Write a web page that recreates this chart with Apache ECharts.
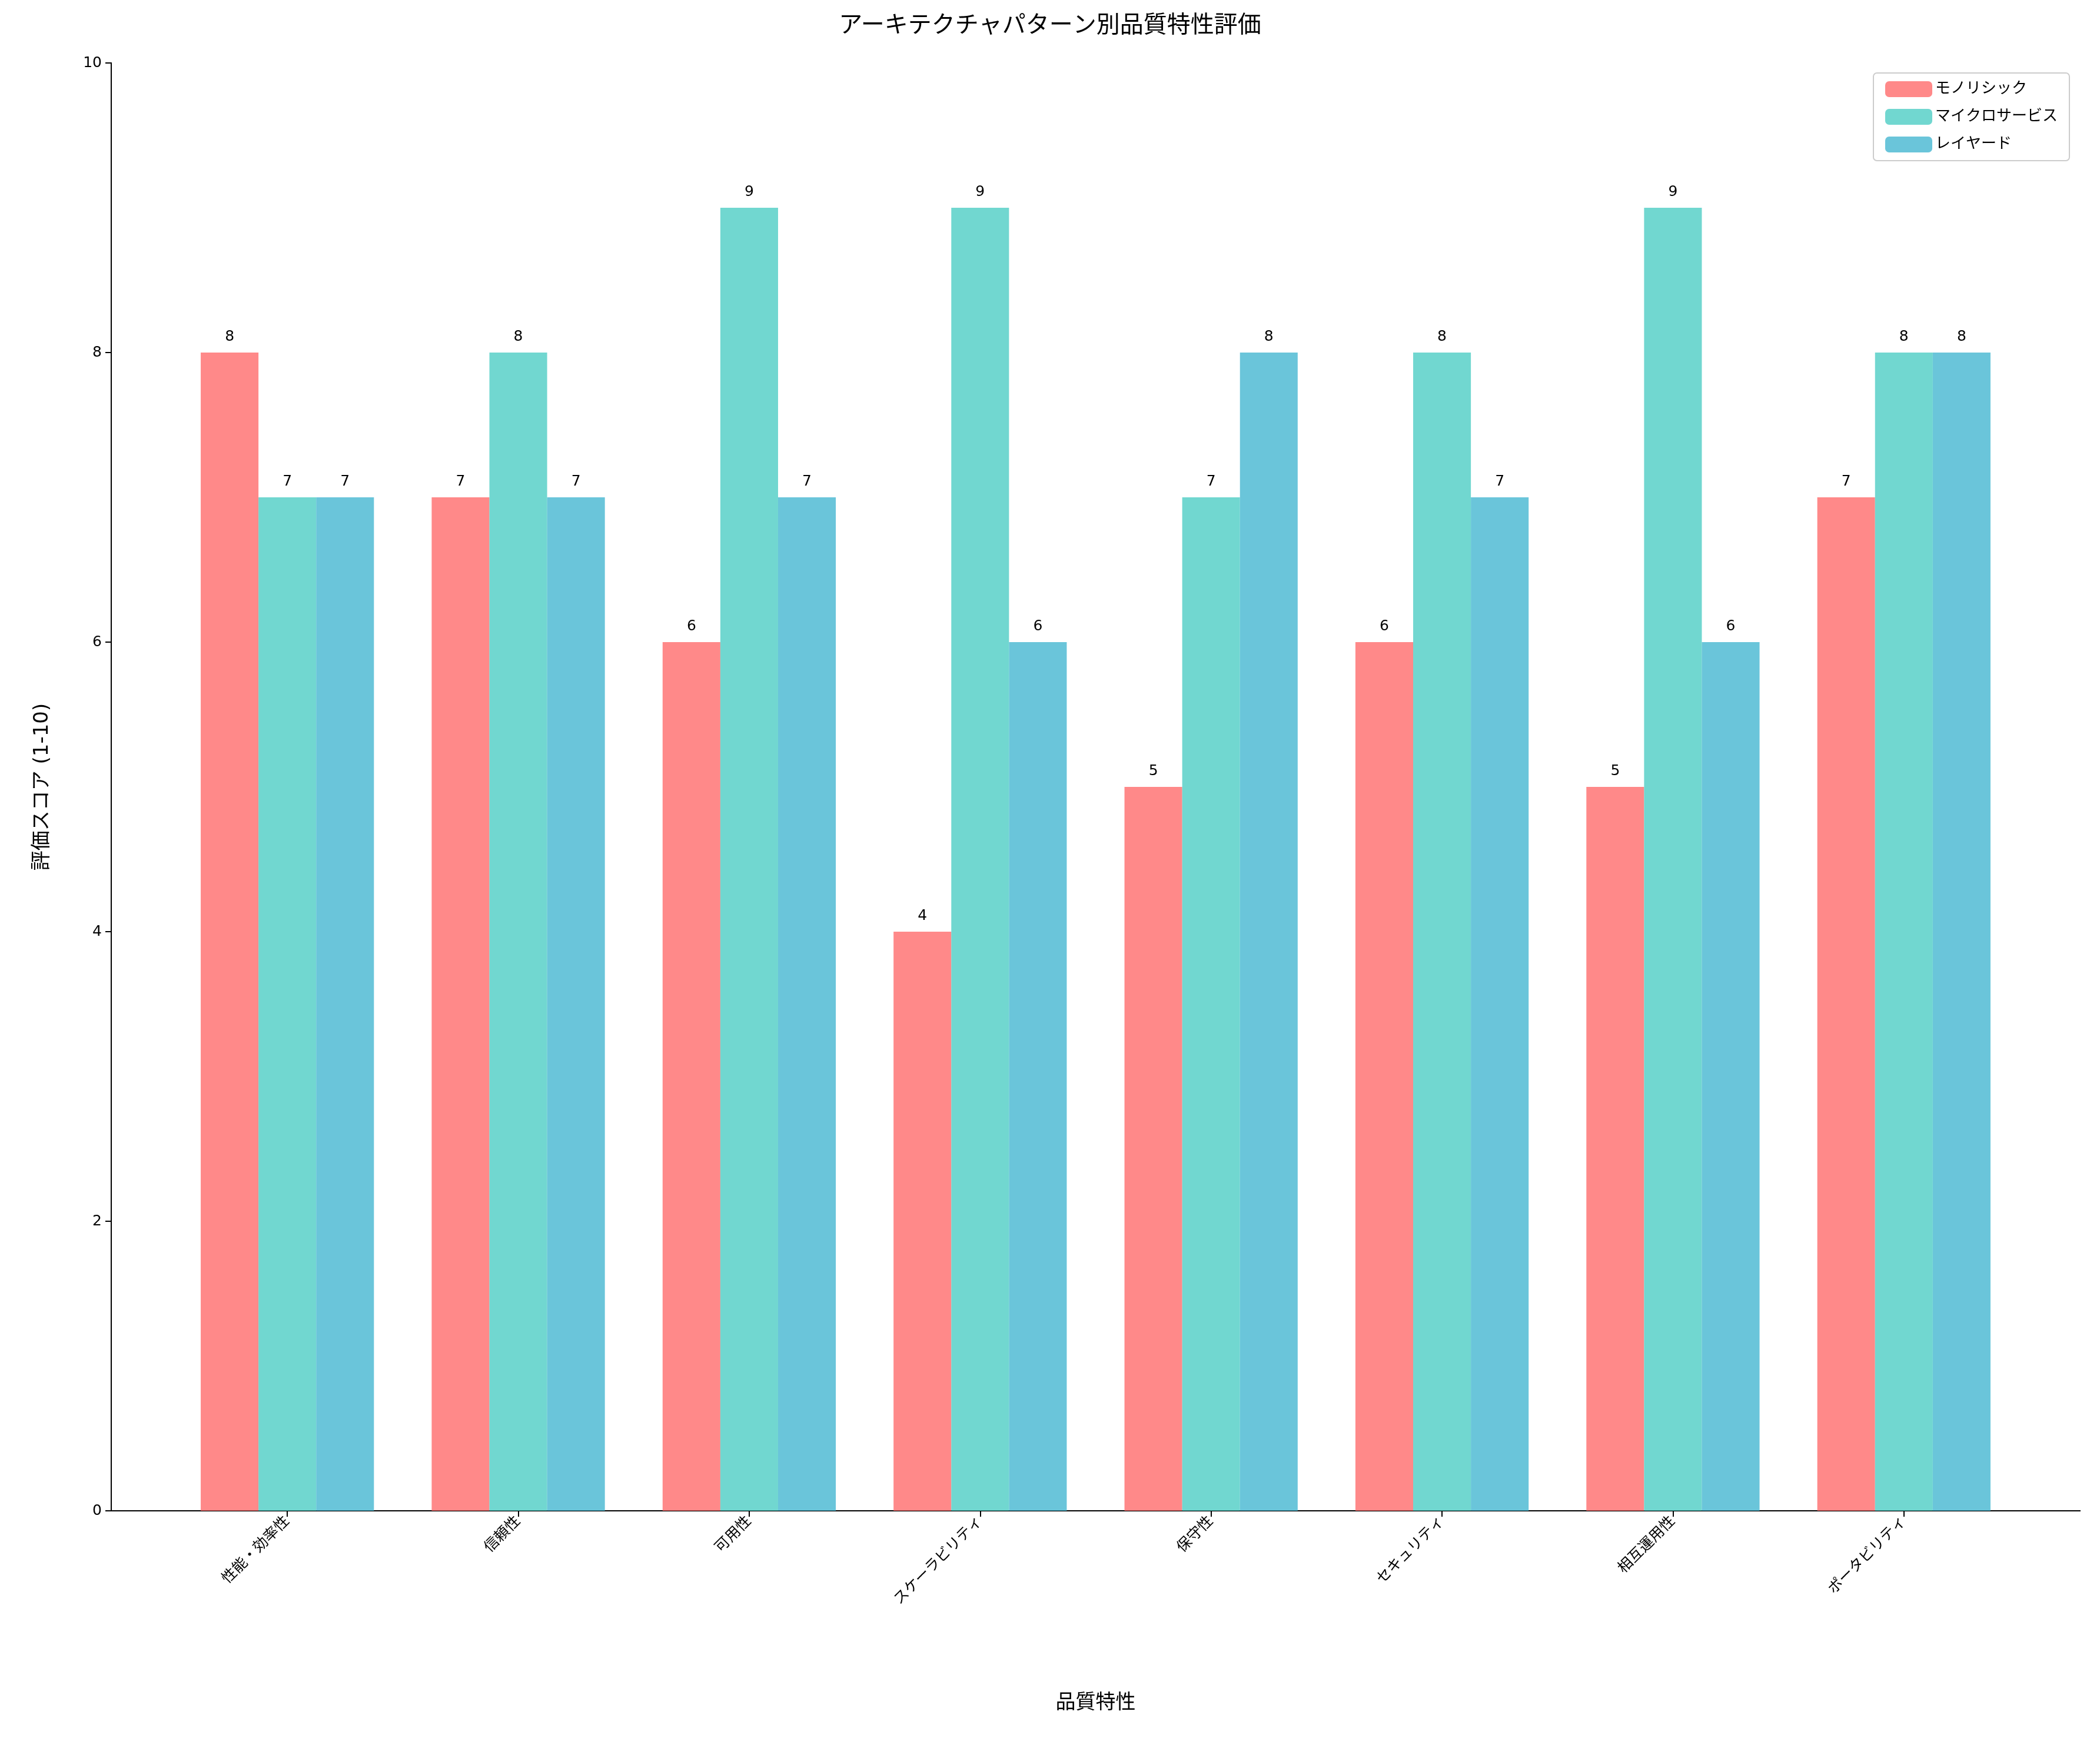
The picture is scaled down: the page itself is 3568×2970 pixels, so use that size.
<!DOCTYPE html>
<html><head><meta charset="utf-8">
<script src="https://cdn.jsdelivr.net/npm/echarts@6/dist/echarts.min.js"></script>
<style>html,body{margin:0;padding:0;background:#fff}#c{width:3568px;height:2970px}</style>
</head><body><div id="c"></div>
<script>
const categories = ['性能・効率性','信頼性','可用性','スケーラビリティ','保守性','セキュリティ','相互運用性','ポータビリティ'];
const monolithic = [8,7,6,4,5,6,5,7];
const microservices = [7,8,9,9,7,8,9,8];
const layered = [7,7,7,6,8,7,6,8];
const seriesNames = ['モノリシック','マイクロサービス','レイヤード'];
const colors = ['rgba(255,107,107,0.8)','rgba(78,205,196,0.8)','rgba(69,183,209,0.8)'];
const yTicks = [0,2,4,6,8,10];

const font = 'DejaVu Sans, "Noto Sans CJK JP", sans-serif';
const chart = echarts.init(document.getElementById('c'));
const mk = (name, data, i) => ({
  name, type:'bar', data, xAxisIndex:1, yAxisIndex:1,
  barWidth:'25%', barGap:'0%',
  itemStyle:{color:colors[i]},
  label:{show:true, position:'top', distance:14, color:'#000', fontSize:25, fontFamily:font}
});
chart.setOption({
  animation:false,
  title:{text:'アーキテクチャパターン別品質特性評価', left:'center', top:20,
    textStyle:{fontSize:40, fontWeight:'normal', color:'#000', fontFamily:font}},
  legend:{data:seriesNames.map((n,i)=>({name:n, itemStyle:{color:colors[i]}})),
    right:52, top:124, orient:'vertical', itemWidth:80, itemHeight:27, itemGap:20,
    borderColor:'#ccc', borderWidth:2, borderRadius:6, padding:[14,20,14,20],
    textStyle:{fontSize:26, fontFamily:font, color:'#000'}},
  grid:[
    {left:189, right:34, top:107, bottom:403},
    {left:292, right:137, top:107, bottom:403}
  ],
  xAxis:[
    {gridIndex:0, type:'value', min:0, max:1, axisLabel:{show:false}, axisTick:{show:false}, splitLine:{show:false},
     axisLine:{show:true, lineStyle:{color:'#000', width:2}}, name:'品質特性', nameLocation:'middle', nameGap:310,
     nameTextStyle:{fontSize:34, fontFamily:font, color:'#000'}},
    {gridIndex:0, type:'value', position:'top', min:0, max:1, axisLabel:{show:false}, axisTick:{show:false}, splitLine:{show:false},
     axisLine:{show:true, lineStyle:{color:'#000', width:2}}},
    {gridIndex:1, type:'category', data:categories, axisLine:{show:false},
     axisTick:{show:true, alignWithLabel:true, length:10, lineStyle:{color:'#000', width:2}},
     axisLabel:{rotate:45, fontSize:25, fontFamily:font, color:'#000', margin:14, interval:0}}
  ],
  yAxis:[
    {gridIndex:0, type:'value', min:0, max:10, interval:2,
     axisLine:{show:true, lineStyle:{color:'#000', width:2}},
     axisTick:{show:true, length:10, lineStyle:{color:'#000', width:2}},
     axisLabel:{fontSize:25, fontFamily:font, color:'#000', margin:16}, splitLine:{show:false},
     name:'評価スコア (1-10)', nameLocation:'middle', nameGap:100,
     nameTextStyle:{fontSize:34, fontFamily:font, color:'#000'}},
    {gridIndex:0, type:'value', position:'right', min:0, max:10, interval:2,
     axisLine:{show:true, lineStyle:{color:'#000', width:2}}, axisTick:{show:false}, axisLabel:{show:false}, splitLine:{show:false}},
    {gridIndex:1, type:'value', min:0, max:10, show:false}
  ],
  series:[
    Object.assign(mk(seriesNames[0], monolithic, 0), {xAxisIndex:2, yAxisIndex:2}),
    Object.assign(mk(seriesNames[1], microservices, 1), {xAxisIndex:2, yAxisIndex:2}),
    Object.assign(mk(seriesNames[2], layered, 2), {xAxisIndex:2, yAxisIndex:2})
  ]
});
</script></body></html>
